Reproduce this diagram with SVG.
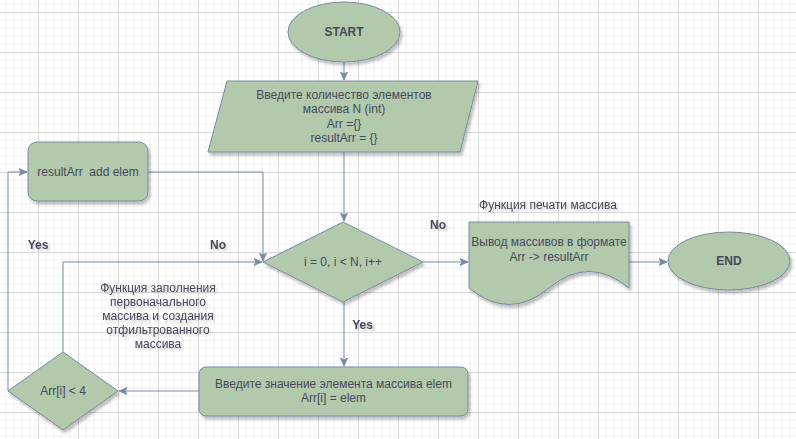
<svg xmlns="http://www.w3.org/2000/svg" width="796" height="439" viewBox="0 0 796 439">
<style>
.shape{fill:#B2C9AB;stroke:#788AA3;stroke-width:1;filter:url(#sh)}
.edge{fill:none;stroke:#788AA3;stroke-width:1}
text{font-family:"Liberation Sans",Arial,sans-serif;font-size:12px;fill:#46495D;text-anchor:middle}
.b{font-weight:bold}
.lbl{filter:url(#tsh)}
</style>
<defs>
<pattern id="grid" patternUnits="userSpaceOnUse" x="38" y="12" width="40" height="40">
<path d="M8,0V40M16,0V40M24,0V40M32,0V40M0,8H40M0,16H40M0,24H40M0,32H40" stroke="#efefef" stroke-width="1" fill="none"/>
<path d="M0.5,0V40M0,0.5H40" stroke="#dadada" stroke-width="1" fill="none"/>
</pattern>
<filter id="sh" x="-20%" y="-20%" width="140%" height="150%">
<feGaussianBlur in="SourceAlpha" stdDeviation="1.5"/>
<feOffset dx="2" dy="3" result="o"/>
<feComponentTransfer><feFuncA type="linear" slope="0.25"/></feComponentTransfer>
<feMerge><feMergeNode/><feMergeNode in="SourceGraphic"/></feMerge>
</filter>
<filter id="tsh" x="-20%" y="-30%" width="140%" height="170%">
<feGaussianBlur in="SourceAlpha" stdDeviation="1.2"/>
<feOffset dx="2" dy="2"/>
<feComponentTransfer><feFuncA type="linear" slope="0.2"/></feComponentTransfer>
<feMerge><feMergeNode/><feMergeNode in="SourceGraphic"/></feMerge>
</filter>
<marker id="arr" markerUnits="userSpaceOnUse" markerWidth="9" markerHeight="9" refX="8" refY="4" orient="auto">
<path d="M0,0.5 L8,4 L0,7.5 L2,4 Z" fill="#788AA3" stroke="#788AA3" stroke-width="0.8"/>
</marker>
</defs>
<rect width="796" height="439" fill="#ffffff"/>
<rect width="796" height="439" fill="url(#grid)"/>

<g id="connectors">
<path class="edge" d="M344,62 L344,80" marker-end="url(#arr)"/>
<path class="edge" d="M344,152 L344,221" marker-end="url(#arr)"/>
<path class="edge" d="M423,262 L468,262" marker-end="url(#arr)"/>
<path class="edge" d="M629,262 L667,262" marker-end="url(#arr)"/>
<path class="edge" d="M344,302 L344,366" marker-end="url(#arr)"/>
<path class="edge" d="M199,391 L119,391" marker-end="url(#arr)"/>
<path class="edge" d="M8,391 L8,172 L27,172" marker-end="url(#arr)"/>
<path class="edge" d="M63,352 L63,262 L262,262" marker-end="url(#arr)"/>
<path class="edge" d="M148,172 L263,172 L263,261" marker-end="url(#arr)"/>
</g>

<g id="start">
<ellipse class="shape" cx="344" cy="32" rx="56" ry="30"/>
<text class="b" x="344" y="36">START</text>
</g>

<g id="input">
<path class="shape" d="M227,81 L478,81 L460,152 L208,152 Z"/>
<text x="344" y="99">Введите количество элементов</text>
<text x="344" y="113">массива N (int)</text>
<text x="344" y="128">Arr ={}</text>
<text x="344" y="142">resultArr = {}</text>
</g>

<g id="loop">
<path class="shape" d="M343,222 L423,262 L343,302 L263,262 Z"/>
<text x="343" y="266">i = 0, i &lt; N, i++</text>
</g>

<g id="addelem">
<rect class="shape" x="28" y="142" width="120" height="59" rx="9" ry="9"/>
<text x="88" y="176">resultArr&#160; add elem</text>
</g>

<g id="enterelem">
<rect class="shape" x="199" y="367" width="269" height="49" rx="7" ry="7"/>
<text x="333.5" y="388">Введите значение элемента массива elem</text>
<text x="333.5" y="402">Arr[i] = elem</text>
</g>

<g id="check">
<path class="shape" d="M63,352 L118,391 L63,430 L8,391 Z"/>
<text x="63" y="395">Arr[i] &lt; 4</text>
</g>

<g id="output">
<path class="shape" d="M469,222 L629,222 L629,288 Q589,255 549,288 Q509,321 469,288 Z"/>
<text x="549" y="246">Вывод массивов в формате</text>
<text x="549" y="261">Arr -&gt; resultArr</text>
</g>

<g id="end">
<ellipse class="shape" cx="729" cy="261" rx="61" ry="29"/>
<text class="b" x="729" y="265">END</text>
</g>

<g id="labels">
<text class="b lbl" x="438" y="229">No</text>
<text class="b lbl" x="38" y="249">Yes</text>
<text class="b lbl" x="218" y="249">No</text>
<text class="b lbl" x="362.5" y="329">Yes</text>
<text class="lbl" x="548" y="209">Функция печати массива</text>
<g class="lbl">
<text x="158" y="292">Функция заполнения</text>
<text x="158" y="306">первоначального</text>
<text x="158" y="320">массива и создания</text>
<text x="158" y="334">отфильтрованного</text>
<text x="158" y="348">массива</text>
</g>
</g>
</svg>
